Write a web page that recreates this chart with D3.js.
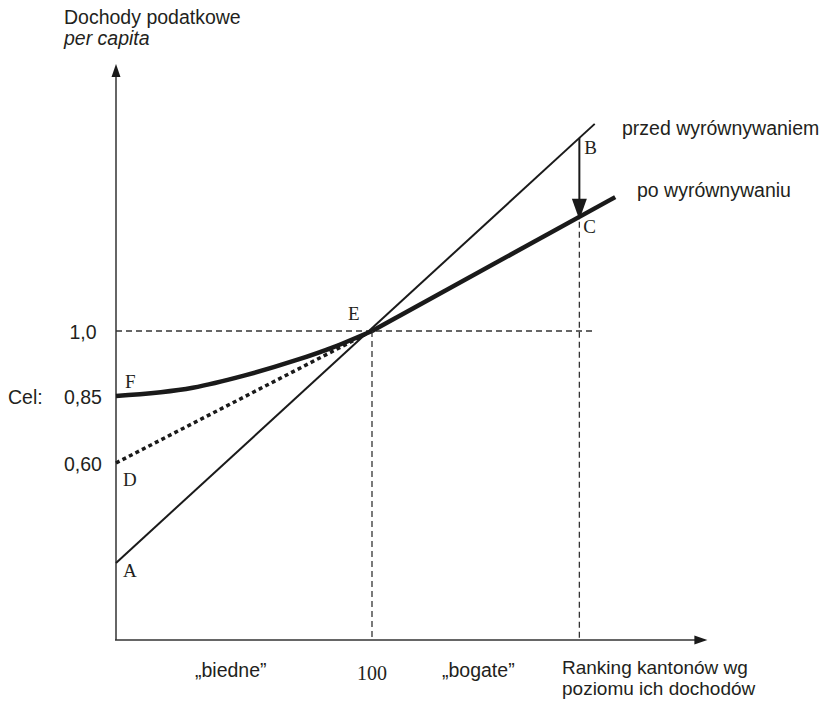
<!DOCTYPE html>
<html>
<head>
<meta charset="utf-8">
<script src="https://cdn.jsdelivr.net/npm/d3@7"></script>
<style>
  body { margin: 0; background: #fff; }
  svg text { font-family: "Liberation Sans", Arial, sans-serif; fill: #231f20; }
  svg text.serif { font-family: "Liberation Serif", "DejaVu Serif", serif; }
</style>
</head>
<body>
<svg id="chart"></svg>
<script>
const svg = d3.select("#chart");
const width = 826;
const height = 701;
svg.attr("width", width).attr("height", height);

// rank of the canton (0 = poorest, 100 = middle), value = income per capita index
const rankMax = 231;
const valueMin = -0.06;
const valueMax = 1.616;

// tick labels on the value axis
const yTicks = [0.60, 0.85, 1.0];
const yTickLabels = ["0,60", "0,85", "1,0"];

// lines: [rank, value]
const przedLine = [[0, 0.227], [187, 1.478]];
const poLine = [[100, 1.0], [195, 1.309]];
const celCurve = [[0, 0.85], [30, 0.869], [50, 0.897], [70, 0.932], [85, 0.963], [100, 1.0]];
const dottedLine = [[0, 0.60], [100, 1.0]];
const rankE = 100;
const rankC = 181;
const guideEnd = 187.5;

// Scales (the schematic value axis is not proportional, so one segment per tick)
const x = d3.scaleLinear().domain([0, 100]).range([116, 372]);
const y = d3.scaleLinear().domain(yTicks).range([463, 396, 331]);

const ink = "#1a1a1a";

// point on a straight drawn line, in pixels
function pixelOn(line, r) {
  const [a, b] = line;
  return y(a[1]) + (y(b[1]) - y(a[1])) * (r - a[0]) / (b[0] - a[0]);
}
const pxB = pixelOn(przedLine, rankC);
const pxC = pixelOn(poLine, rankC);

// Dashed guides
svg.append("line")
  .attr("x1", x(0)).attr("x2", x(guideEnd))
  .attr("y1", y(1.0)).attr("y2", y(1.0))
  .attr("stroke", "#333").attr("stroke-width", 1.3)
  .attr("stroke-dasharray", "6,4");
svg.append("line")
  .attr("x1", x(rankE)).attr("x2", x(rankE))
  .attr("y1", y(1.0)).attr("y2", y(valueMin))
  .attr("stroke", "#333").attr("stroke-width", 1.3)
  .attr("stroke-dasharray", "6,4");
svg.append("line")
  .attr("x1", x(rankC)).attr("x2", x(rankC))
  .attr("y1", pxC + 5).attr("y2", y(valueMin))
  .attr("stroke", "#333").attr("stroke-width", 1.3)
  .attr("stroke-dasharray", "6,4");

// Axes with arrow heads
svg.append("line")
  .attr("x1", x(0)).attr("x2", x(0))
  .attr("y1", y(valueMin)).attr("y2", y(valueMax) + 6)
  .attr("stroke", "#333").attr("stroke-width", 1.5);
svg.append("path")
  .attr("d", `M${x(0)},${y(valueMax)} l-4.5,13 l9,0 z`)
  .attr("fill", ink);
svg.append("line")
  .attr("x1", x(0) - 1).attr("x2", x(rankMax) - 6)
  .attr("y1", y(valueMin)).attr("y2", y(valueMin))
  .attr("stroke", "#333").attr("stroke-width", 1.5);
svg.append("path")
  .attr("d", `M${x(rankMax)},${y(valueMin)} l-13,-4.5 l0,9 z`)
  .attr("fill", ink);

const lineGen = d3.line().x(d => x(d[0])).y(d => y(d[1]));

// Dotted line D-E
svg.append("path")
  .attr("d", lineGen(dottedLine))
  .attr("fill", "none").attr("stroke", ink)
  .attr("stroke-width", 3.5).attr("stroke-dasharray", "4,3.3");

// Before equalisation (A-B)
svg.append("path")
  .attr("d", lineGen(przedLine))
  .attr("fill", "none").attr("stroke", ink).attr("stroke-width", 2);

// After equalisation (F-E-C)
svg.append("path")
  .attr("d", d3.line().x(d => x(d[0])).y(d => y(d[1])).curve(d3.curveMonotoneX)(celCurve))
  .attr("fill", "none").attr("stroke", ink).attr("stroke-width", 4.5);
svg.append("path")
  .attr("d", lineGen(poLine))
  .attr("fill", "none").attr("stroke", ink).attr("stroke-width", 4.5);

// Arrow B -> C
svg.append("line")
  .attr("x1", x(rankC)).attr("x2", x(rankC))
  .attr("y1", pxB).attr("y2", pxC - 14)
  .attr("stroke", ink).attr("stroke-width", 2);
svg.append("path")
  .attr("d", `M${x(rankC)},${pxC + 3} l-7.5,-21 l15,0 z`)
  .attr("fill", ink);

// Value axis labels
svg.selectAll(".ytick")
  .data(yTicks)
  .join("text")
  .attr("class", "ytick")
  .attr("x", 83)
  .attr("y", d => y(d) + 8)
  .attr("text-anchor", "middle")
  .attr("font-size", 19.5)
  .text((d, i) => yTickLabels[i]);
svg.append("text").attr("x", 8).attr("y", y(0.85) + 8)
  .attr("font-size", 19.5).text("Cel:");

// Titles
svg.append("text").attr("x", 64).attr("y", 24).attr("font-size", 19.5).text("Dochody podatkowe");
svg.append("text").attr("x", 64).attr("y", 45).attr("font-size", 19.5)
  .attr("font-style", "italic").text("per capita");

// Point letters
const letters = [
  { t: "A", r: 0, py: y(przedLine[0][1]), dx: 7, dy: 14 },
  { t: "D", r: 0, py: y(dottedLine[0][1]), dx: 7, dy: 23 },
  { t: "F", r: 0, py: y(celCurve[0][1]), dx: 9, dy: -8 },
  { t: "E", r: rankE, py: y(1.0), dx: -24, dy: -11 },
  { t: "B", r: rankC, py: pxB, dx: 5, dy: 16 },
  { t: "C", r: rankC, py: pxC, dx: 4, dy: 16 }
];
svg.selectAll(".letter")
  .data(letters)
  .join("text")
  .attr("class", "letter serif")
  .attr("x", d => x(d.r) + d.dx)
  .attr("y", d => d.py + d.dy)
  .attr("font-size", 19)
  .text(d => d.t);

// Series labels
svg.append("text").attr("x", 622).attr("y", 135).attr("font-size", 19.5).text("przed wyrównywaniem");
svg.append("text").attr("x", 637).attr("y", 197).attr("font-size", 19.5).text("po wyrównywaniu");

// Rank axis labels
svg.append("text").attr("x", 195).attr("y", 677).attr("font-size", 19.5).text("„biedne”");
svg.append("text").attr("class", "serif").attr("x", x(rankE)).attr("y", 680)
  .attr("text-anchor", "middle").attr("font-size", 20).text("100");
svg.append("text").attr("x", 442).attr("y", 677).attr("font-size", 19.5).text("„bogate”");
svg.append("text").attr("x", 562).attr("y", 674).attr("font-size", 19).text("Ranking kantonów wg");
svg.append("text").attr("x", 562).attr("y", 695).attr("font-size", 19).text("poziomu ich dochodów");
</script>
</body>
</html>
